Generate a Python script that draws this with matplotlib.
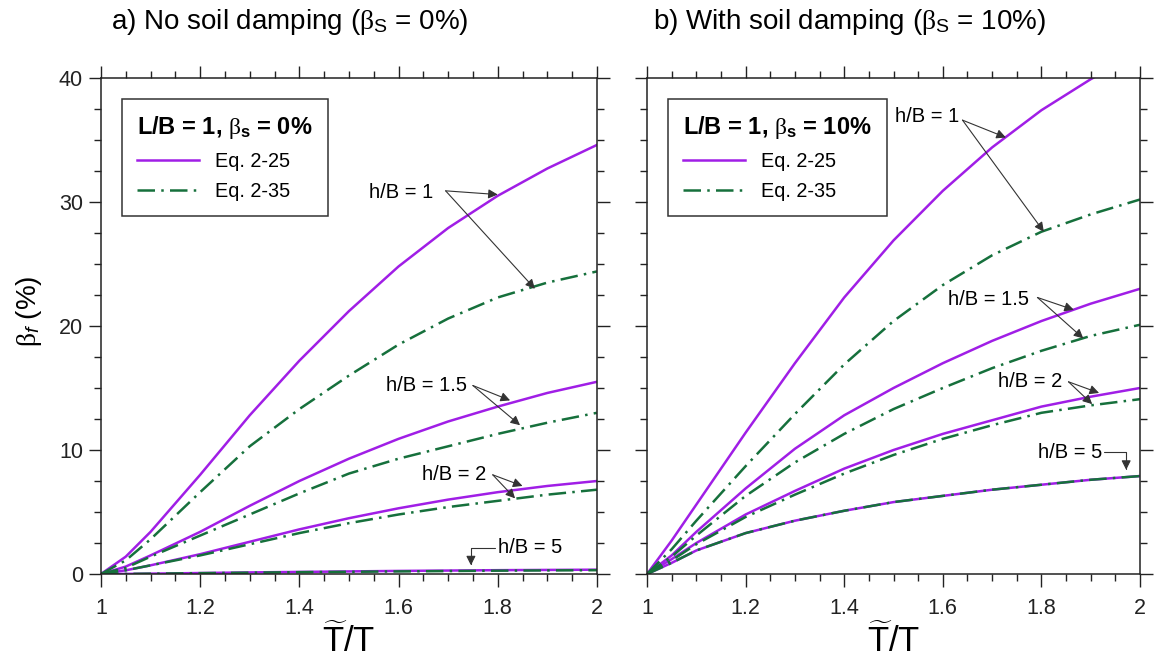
import matplotlib
matplotlib.use("Agg")
import matplotlib.pyplot as plt
from matplotlib.ticker import MultipleLocator

plt.rcParams["font.family"] = ["Liberation Sans", "DejaVu Sans"]
plt.rcParams["mathtext.fontset"] = "custom"
plt.rcParams["mathtext.rm"] = "Liberation Sans"
plt.rcParams["mathtext.it"] = "Liberation Serif"
plt.rcParams["mathtext.bf"] = "Liberation Sans:bold"
plt.rcParams["mathtext.sf"] = "Liberation Sans:italic"

# period lengthening ratio
ratio = [1.0, 1.05, 1.1, 1.2, 1.3, 1.4, 1.5, 1.6, 1.7, 1.8, 1.9, 2.0]

# foundation damping (%), beta_s = 0 %
a_eq25 = {
    "1":   [0, 1.4, 3.4, 8.0, 12.8, 17.2, 21.2, 24.8, 27.9, 30.5, 32.7, 34.6],
    "1.5": [0, 0.6, 1.5, 3.4, 5.5, 7.5, 9.3, 10.9, 12.3, 13.5, 14.6, 15.5],
    "2":   [0, 0.3, 0.7, 1.6, 2.6, 3.6, 4.5, 5.3, 6.0, 6.6, 7.1, 7.5],
    "5":   [0, 0.01, 0.03, 0.08, 0.13, 0.17, 0.21, 0.25, 0.28, 0.31, 0.33, 0.35],
}
a_eq35 = {
    "1":   [0, 1.1, 2.8, 6.6, 10.3, 13.3, 16.0, 18.5, 20.6, 22.3, 23.5, 24.4],
    "1.5": [0, 0.5, 1.4, 3.1, 4.8, 6.5, 8.1, 9.3, 10.3, 11.3, 12.2, 13.0],
    "2":   [0, 0.3, 0.7, 1.5, 2.4, 3.3, 4.1, 4.8, 5.4, 5.9, 6.4, 6.8],
    "5":   [0, 0.01, 0.03, 0.07, 0.11, 0.15, 0.18, 0.21, 0.24, 0.27, 0.29, 0.31],
}

# foundation damping (%), beta_s = 10 %
b_eq25 = {
    "1":   [0, 2.7, 5.6, 11.4, 17.0, 22.3, 26.9, 30.9, 34.4, 37.4, 39.9, 42.1],
    "1.5": [0, 1.5, 3.4, 6.9, 10.1, 12.8, 15.0, 17.0, 18.8, 20.4, 21.8, 23.0],
    "2":   [0, 1.2, 2.5, 4.8, 6.7, 8.5, 10.0, 11.3, 12.4, 13.5, 14.3, 15.0],
    "5":   [0, 0.9, 1.9, 3.3, 4.3, 5.1, 5.8, 6.3, 6.8, 7.2, 7.6, 7.9],
}
b_eq35 = {
    "1":   [0, 2.0, 4.3, 8.7, 12.9, 16.9, 20.4, 23.3, 25.7, 27.6, 29.0, 30.2],
    "1.5": [0, 1.4, 3.1, 6.3, 9.0, 11.3, 13.3, 15.0, 16.6, 18.0, 19.2, 20.1],
    "2":   [0, 1.1, 2.4, 4.6, 6.4, 8.1, 9.6, 10.9, 12.0, 13.0, 13.6, 14.1],
    "5":   [0, 0.9, 1.9, 3.3, 4.3, 5.1, 5.8, 6.3, 6.8, 7.2, 7.6, 7.9],
}

titles = [r"a) No soil damping ($\beta_\mathrm{S}$ = 0%)",
          r"b) With soil damping ($\beta_\mathrm{S}$ = 10%)"]
legend_titles = [r"L/B = 1, $\beta_\mathbf{s}$ = 0%",
                 r"L/B = 1, $\beta_\mathbf{s}$ = 10%"]

# label text position, arrow start, arrow tips (Eq. 2-25, Eq. 2-35)
a_labels = [
    ("h/B = 1",   (1.54, 30.8), (1.695, 30.9), [(1.80, 30.6), (1.875, 23.0)]),
    ("h/B = 1.5", (1.575, 15.2), (1.75, 15.2), [(1.825, 14.0), (1.845, 12.0)]),
    ("h/B = 2",   (1.648, 8.0), (1.79, 8.0),  [(1.85, 7.1), (1.835, 6.1)]),
]
b_labels = [
    ("h/B = 1",   (1.503, 36.9), (1.64, 36.6), [(1.728, 35.2), (1.805, 27.6)]),
    ("h/B = 1.5", (1.61, 22.1), (1.792, 22.3), [(1.866, 21.3), (1.885, 19.0)]),
    ("h/B = 2",   (1.712, 15.5), (1.855, 15.5), [(1.917, 14.6), (1.903, 13.7)]),
]

purple = "#a01ee6"
green = "#16703c"
dashdot = (0, (7, 2.5, 1, 2.5))

fig = plt.figure(figsize=(11.55, 6.57), dpi=100)
ax_a = fig.add_axes([0.0874, 0.1263, 0.4294, 0.755])
ax_b = fig.add_axes([0.5602, 0.1263, 0.4268, 0.755])

panels = [(ax_a, a_eq25, a_eq35, a_labels), (ax_b, b_eq25, b_eq35, b_labels)]

for i, (ax, eq25, eq35, labels) in enumerate(panels):
    for key in ["1", "1.5", "2", "5"]:
        l1, = ax.plot(ratio, eq25[key], color=purple, lw=1.8)
    for key in ["1", "1.5", "2", "5"]:
        l2, = ax.plot(ratio, eq35[key], color=green, lw=1.8, linestyle=dashdot)
    l1.set_label("Eq. 2-25")
    l2.set_label("Eq. 2-35")

    ax.set_xlim(1, 2)
    ax.set_ylim(0, 40)
    ax.xaxis.set_major_locator(MultipleLocator(0.2))
    ax.xaxis.set_minor_locator(MultipleLocator(0.05))
    ax.yaxis.set_major_locator(MultipleLocator(10))
    ax.yaxis.set_minor_locator(MultipleLocator(2.5))
    ax.xaxis.set_major_formatter(lambda v, p: f"{v:g}")
    ax.tick_params(which="both", direction="out", top=True, right=True,
                   width=1.0, colors="#222222", labelsize=15.5)
    ax.tick_params(which="major", length=9)
    ax.tick_params(axis="x", which="major", pad=8)
    ax.tick_params(axis="y", which="major", pad=4)
    ax.tick_params(which="minor", length=5)
    for s in ax.spines.values():
        s.set_linewidth(1.1)
        s.set_color("#222222")
    if i == 1:
        ax.tick_params(labelleft=False)

    ax.set_xlabel(r"$\widetilde{\mathrm{T}}\mathrm{/T}$", fontsize=25)
    ax.xaxis.set_label_coords(0.5, -0.1)
    ax.text([0.38, 0.41][i], 1.113, titles[i], transform=ax.transAxes,
            ha="center", va="center", fontsize=20)

    leg = ax.legend(handles=[l1, l2], loc="upper left",
                    bbox_to_anchor=(0.043, 0.957), borderaxespad=0,
                    fontsize=14.3, title=legend_titles[i], fancybox=False,
                    framealpha=1, edgecolor="#333333", handlelength=3.1,
                    handletextpad=0.8, borderpad=0.75, labelspacing=0.55,
                    alignment="left")
    leg.get_title().set_fontsize(17)
    leg.get_title().set_fontweight("bold")
    leg.get_frame().set_linewidth(1.1)

    arrow = dict(arrowstyle="-|>", lw=0.8, color="#333333",
                 mutation_scale=14, shrinkA=0, shrinkB=0)
    for text, pos, start, tips in labels:
        ax.text(pos[0], pos[1], text, ha="left", va="center", fontsize=14.5)
        for tip in tips:
            ax.annotate("", xy=tip, xytext=start, arrowprops=arrow)

ax_a.set_ylabel(r"$\beta_\mathsf{f}$ (%)", fontsize=20)
ax_a.yaxis.set_label_coords(-0.115, 0.53)

# h/B = 5 labels with bent leaders
elbow = dict(arrowstyle="-|>", lw=0.8, color="#333333", mutation_scale=14,
             shrinkA=0, shrinkB=0, connectionstyle="angle,angleA=0,angleB=90,rad=0")
ax_a.text(1.80, 2.1, "h/B = 5", ha="left", va="center", fontsize=14.5)
ax_a.annotate("", xy=(1.746, 0.7), xytext=(1.795, 2.1), arrowprops=elbow)
ax_b.text(1.923, 9.8, "h/B = 5", ha="right", va="center", fontsize=14.5)
ax_b.annotate("", xy=(1.972, 8.4), xytext=(1.928, 9.8), arrowprops=elbow)

fig.savefig("out.png", dpi=100)
